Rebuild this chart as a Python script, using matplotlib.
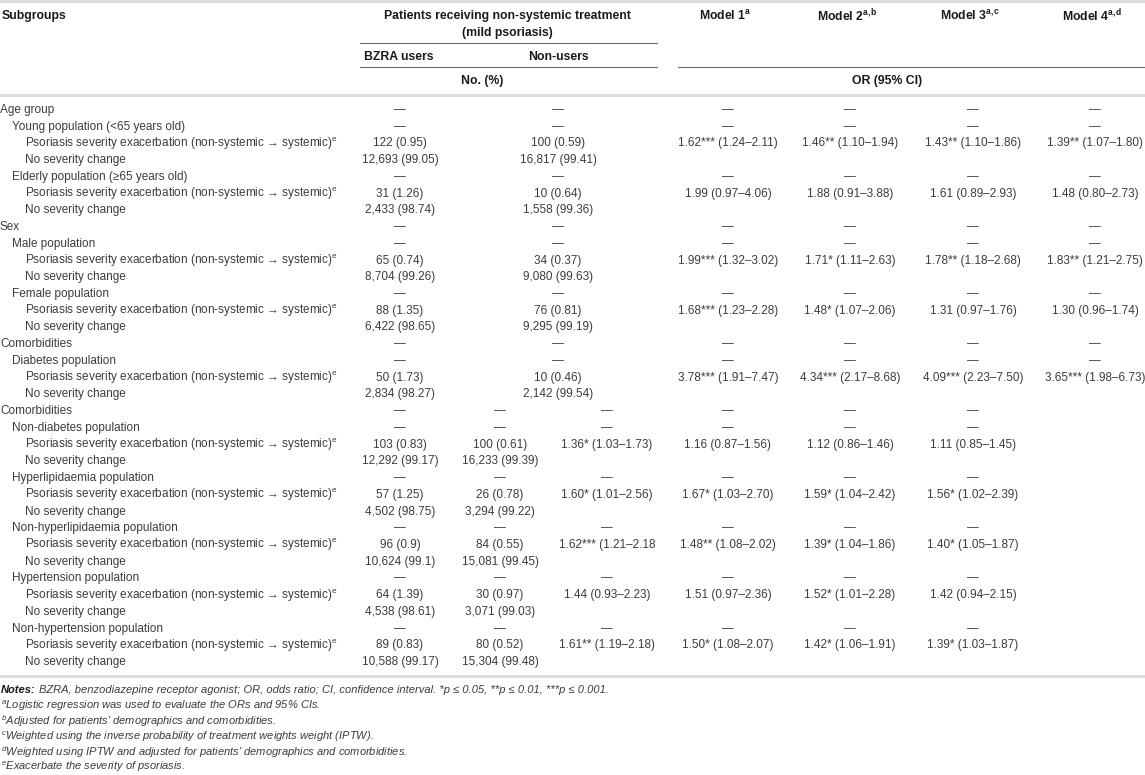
import matplotlib.pyplot as plt

plt.rcParams['font.family'] = ['Liberation Sans', 'DejaVu Sans']
plt.rcParams['mathtext.default'] = 'regular'

EXAC = "Psoriasis severity exacerbation (non-systemic → systemic)$^{e}$"
NOCH = "No severity change"

group_names = ["Age group", "Sex", "Comorbidities"]

row_labels = [
    "Age group", "Young population (<65 years old)", EXAC, NOCH,
    "Elderly population (≥65 years old)", EXAC, NOCH,
    "Sex", "Male population", EXAC, NOCH,
    "Female population", EXAC, NOCH,
    "Comorbidities", "Diabetes population", EXAC, NOCH,
    "Comorbidities", "Non-diabetes population", EXAC, NOCH,
    "Hyperlipidaemia population", EXAC, NOCH,
    "Non-hyperlipidaemia population", EXAC, NOCH,
    "Hypertension population", EXAC, NOCH,
    "Non-hypertension population", EXAC, NOCH,
]

bzra_users = [
    "—", "—", "122 (0.95)", "12,693 (99.05)", "—", "31 (1.26)", "2,433 (98.74)",
    "—", "—", "65 (0.74)", "8,704 (99.26)", "—", "88 (1.35)", "6,422 (98.65)",
    "—", "—", "50 (1.73)", "2,834 (98.27)",
    "—", "—", "103 (0.83)", "12,292 (99.17)", "—", "57 (1.25)", "4,502 (98.75)",
    "—", "96 (0.9)", "10,624 (99.1)", "—", "64 (1.39)", "4,538 (98.61)",
    "—", "89 (0.83)", "10,588 (99.17)",
]

non_users = [
    "—", "—", "100 (0.59)", "16,817 (99.41)", "—", "10 (0.64)", "1,558 (99.36)",
    "—", "—", "34 (0.37)", "9,080 (99.63)", "—", "76 (0.81)", "9,295 (99.19)",
    "—", "—", "10 (0.46)", "2,142 (99.54)",
    "—", "—", "100 (0.61)", "16,233 (99.39)", "—", "26 (0.78)", "3,294 (99.22)",
    "—", "84 (0.55)", "15,081 (99.45)", "—", "30 (0.97)", "3,071 (99.03)",
    "—", "80 (0.52)", "15,304 (99.48)",
]

# OR (95% CI) for the exacerbation rows, one list per model
model1_or = ["1.62*** (1.24–2.11)", "1.99 (0.97–4.06)", "1.99*** (1.32–3.02)",
             "1.68*** (1.23–2.28)", "3.78*** (1.91–7.47)",
             "1.36* (1.03–1.73)", "1.60* (1.01–2.56)", "1.62*** (1.21–2.18",
             "1.44 (0.93–2.23)", "1.61** (1.19–2.18)"]
model2_or = ["1.46** (1.10–1.94)", "1.88 (0.91–3.88)", "1.71* (1.11–2.63)",
             "1.48* (1.07–2.06)", "4.34*** (2.17–8.68)",
             "1.16 (0.87–1.56)", "1.67* (1.03–2.70)", "1.48** (1.08–2.02)",
             "1.51 (0.97–2.36)", "1.50* (1.08–2.07)"]
model3_or = ["1.43** (1.10–1.86)", "1.61 (0.89–2.93)", "1.78** (1.18–2.68)",
             "1.31 (0.97–1.76)", "4.09*** (2.23–7.50)",
             "1.12 (0.86–1.46)", "1.59* (1.04–2.42)", "1.39* (1.04–1.86)",
             "1.52* (1.01–2.28)", "1.42* (1.06–1.91)"]
model4_or = ["1.39** (1.07–1.80)", "1.48 (0.80–2.73)", "1.83** (1.21–2.75)",
             "1.30 (0.96–1.74)", "3.65*** (1.98–6.73)",
             "1.11 (0.85–1.45)", "1.56* (1.02–2.39)", "1.40* (1.05–1.87)",
             "1.42 (0.94–2.15)", "1.39* (1.03–1.87)"]

model_headers = ["Model 1$^{a}$", r"Model 2$^{a,\!b}$", r"Model 3$^{a,\!c}$", r"Model 4$^{a,\!d}$"]

notes_text = ("BZRA, benzodiazepine receptor agonist; OR, odds ratio; CI, confidence interval. "
              "*p ≤ 0.05, **p ≤ 0.01, ***p ≤ 0.001.")
footnotes = [
    "$^{a}$Logistic regression was used to evaluate the ORs and 95% CIs.",
    "$^{b}$Adjusted for patients' demographics and comorbidities.",
    "$^{c}$Weighted using the inverse probability of treatment weights weight (IPTW).",
    "$^{d}$Weighted using IPTW and adjusted for patients' demographics and comorbidities.",
    "$^{e}$Exacerbate the severity of psoriasis.",
]

# ---- layout (pixels, origin top-left) ----
W, H = 1145, 775
fig = plt.figure(figsize=(W / 100, H / 100), dpi=100)
ax = fig.add_axes([0, 0, 1, 1])
ax.set_xlim(0, W)
ax.set_ylim(H, 0)
ax.axis('off')

body = dict(fontsize=8.5, color='#3c3c3c')
head = dict(fontsize=8.8, color='#1a1a1a', fontweight='bold')
light_rule = '#dcdcdc'
dark_rule = '#6a6a6a'

split = 18                     # second "Comorbidities" block starts here
top_cols = [400, 558, 728, 850, 973, 1095]
bottom_cols = [400, 500, 607, 728, 850, 973]
row_y0, row_dy = 110, 16.73
indent = {0: 0, 1: 12, 2: 25}

# rules
ax.plot([0, W], [1, 1], color=light_rule, lw=2.2)
ax.plot([360, 657], [43, 43], color=dark_rule, lw=0.8)
ax.plot([360, 657], [67, 67], color=dark_rule, lw=0.8)
ax.plot([678, W], [67, 67], color=dark_rule, lw=0.8)
ax.plot([0, W], [95, 95], color=light_rule, lw=2.2)
ax.plot([0, W], [676, 676], color=light_rule, lw=2.2)

# header
ax.text(2, 16, "Subgroups", ha='left', va='center', **head)
ax.text(507, 16, "Patients receiving non-systemic treatment", ha='center', va='center', **head)
ax.text(507, 33, "(mild psoriasis)", ha='center', va='center', **head)
for x, lab in zip(top_cols[2:], model_headers):
    ax.text(x - 3, 16, lab, ha='center', va='center', **head)
ax.text(364, 57, "BZRA users", ha='left', va='center', **head)
ax.text(558, 57, "Non-users", ha='center', va='center', **head)
ax.text(482, 81, "No. (%)", ha='center', va='center', **head)
ax.text(887, 81, "OR (95% CI)", ha='center', va='center', **head)

# body
models = [model1_or, model2_or, model3_or, model4_or]
k = 0
for i, lab in enumerate(row_labels):
    y = row_y0 + i * row_dy
    if lab in group_names:
        level = 0
    elif lab in (EXAC, NOCH):
        level = 2
    else:
        level = 1
    ax.text(indent[level], y, lab, ha='left', va='center', **body)
    cols = top_cols if i < split else bottom_cols
    ax.text(cols[0], y, bzra_users[i], ha='center', va='center', **body)
    ax.text(cols[1], y, non_users[i], ha='center', va='center', **body)
    if lab == EXAC:
        cells = [m[k] for m in models]
        k += 1
    elif lab == NOCH:
        cells = ["", "", "", ""]
    else:
        cells = ["—"] * 4
    for x, c in zip(cols[2:], cells):
        if c:
            ax.text(x, y, c, ha='center', va='center', **body)

# notes
ax.text(1, 690, "Notes:", ha='left', va='center', fontsize=8, color='#1a1a1a',
        fontweight='bold', fontstyle='italic')
ax.text(39, 690, notes_text, ha='left', va='center', fontsize=8, color='#3c3c3c',
        fontstyle='italic')
for j, fn in enumerate(footnotes):
    ax.text(1, 705.5 + j * 15.4, fn, ha='left', va='center', fontsize=8,
            color='#3c3c3c', fontstyle='italic')

fig.savefig('out.png', dpi=100)
